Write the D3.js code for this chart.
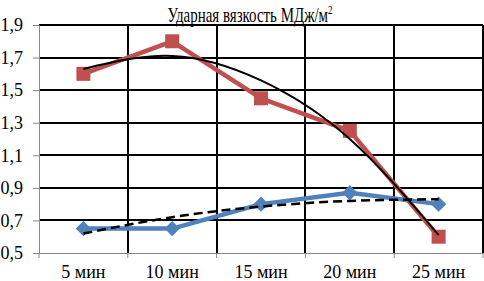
<!DOCTYPE html>
<html>
<head>
<meta charset="utf-8">
<script src="https://cdn.jsdelivr.net/npm/d3@7"></script>
<style>
  body { margin: 0; background: #fff; }
  text { font-family: "Liberation Serif", "Times New Roman", serif; fill: #000; }
</style>
</head>
<body>
<script>
// data
var categories = ["5 мин", "10 мин", "15 мин", "20 мин", "25 мин"];
var redValues  = [1.6, 1.8, 1.45, 1.25, 0.6];
var blueValues = [0.65, 0.65, 0.8, 0.87, 0.8];
var redTrend   = [1.63, 1.71, 1.56, 1.2, 0.61];   // black solid trend
var blueTrend  = [0.62, 0.72, 0.785, 0.82, 0.83]; // black dashed trend
var yTicks = [0.5, 0.7, 0.9, 1.1, 1.3, 1.5, 1.7, 1.9];

var W = 484, H = 281;
var margin = {top: 25, right: 1, bottom: 28, left: 39};
var width = W - margin.left - margin.right,
    height = H - margin.top - margin.bottom;

var svg = d3.select("body").append("svg")
    .attr("width", W).attr("height", H);

var g = svg.append("g")
    .attr("transform", "translate(" + margin.left + "," + margin.top + ")");

var x = d3.scaleBand().domain(categories).range([0, width]);
var y = d3.scaleLinear().domain([0.5, 1.9]).range([height, 0]);
var cx = function(d, i) { return x(categories[i]) + x.bandwidth() / 2; };

// horizontal grid
g.append("g").selectAll("line").data(yTicks.slice(1)).enter().append("line")
    .attr("x1", 0).attr("x2", width)
    .attr("y1", function(d) { return Math.round(y(d)); })
    .attr("y2", function(d) { return Math.round(y(d)); })
    .attr("stroke", "#000").attr("stroke-width", 2);

// vertical grid at category boundaries
g.append("g").selectAll("line").data(categories).enter().append("line")
    .attr("x1", function(d) { return Math.round(x(d) + x.bandwidth()); })
    .attr("x2", function(d) { return Math.round(x(d) + x.bandwidth()); })
    .attr("y1", 0).attr("y2", height)
    .attr("stroke", "#000").attr("stroke-width", 2);

// y axis
var yAxis = g.append("g")
    .call(d3.axisLeft(y).tickValues(yTicks).tickSize(6).tickPadding(10)
        .tickFormat(function(d) { return d3.format(".1f")(d).replace(".", ","); }));
yAxis.select(".domain").attr("stroke", "#888");
yAxis.selectAll(".tick line").attr("stroke", "#888");
yAxis.selectAll("text").style("font-size", "18px").attr("font-family", null);

// x axis
var xAxis = g.append("g")
    .attr("transform", "translate(0," + height + ")")
    .call(d3.axisBottom(x).tickSize(0).tickPadding(12));
xAxis.select(".domain").attr("stroke", "#888");
xAxis.selectAll("text").style("font-size", "18px").attr("font-family", null);
g.append("g").selectAll("line").data([0].concat(categories)).enter().append("line")
    .attr("x1", function(d, i) { return i === 0 ? 0 : x(d) + x.bandwidth(); })
    .attr("x2", function(d, i) { return i === 0 ? 0 : x(d) + x.bandwidth(); })
    .attr("y1", height).attr("y2", height + 5)
    .attr("stroke", "#888").attr("stroke-width", 1);

// series lines
var line = function(vals) {
    return d3.line().x(cx).y(function(d) { return y(d); })(vals);
};
g.append("path").attr("d", line(redValues))
    .attr("fill", "none").attr("stroke", "#C0504D").attr("stroke-width", 4.5)
    .attr("stroke-linejoin", "round");
g.append("path").attr("d", line(blueValues))
    .attr("fill", "none").attr("stroke", "#4F81BD").attr("stroke-width", 4.5)
    .attr("stroke-linejoin", "round");

// markers
g.append("g").selectAll("rect").data(redValues).enter().append("rect")
    .attr("x", function(d, i) { return cx(d, i) - 7; })
    .attr("y", function(d) { return y(d) - 7; })
    .attr("width", 14).attr("height", 14)
    .attr("fill", "#C0504D");
g.append("g").selectAll("path").data(blueValues).enter().append("path")
    .attr("d", d3.symbol().type(d3.symbolDiamond2).size(150))
    .attr("transform", function(d, i) { return "translate(" + cx(d, i) + "," + y(d) + ")"; })
    .attr("fill", "#4F81BD");

// trend lines
var trend = d3.line().x(cx).y(function(d) { return y(d); }).curve(d3.curveNatural);
g.append("path").attr("d", trend(redTrend))
    .attr("fill", "none").attr("stroke", "#000").attr("stroke-width", 2);
g.append("path").attr("d", trend(blueTrend))
    .attr("fill", "none").attr("stroke", "#000").attr("stroke-width", 2.5)
    .attr("stroke-dasharray", "9,5");

// title
var title = svg.append("text")
    .attr("transform", "translate(250,22) scale(0.68,1)")
    .attr("text-anchor", "middle")
    .style("font-size", "22px");
title.append("tspan").text("Ударная вязкость МДж/м");
title.append("tspan").attr("dy", -8).style("font-size", "13px").text("2");
</script>
</body>
</html>
